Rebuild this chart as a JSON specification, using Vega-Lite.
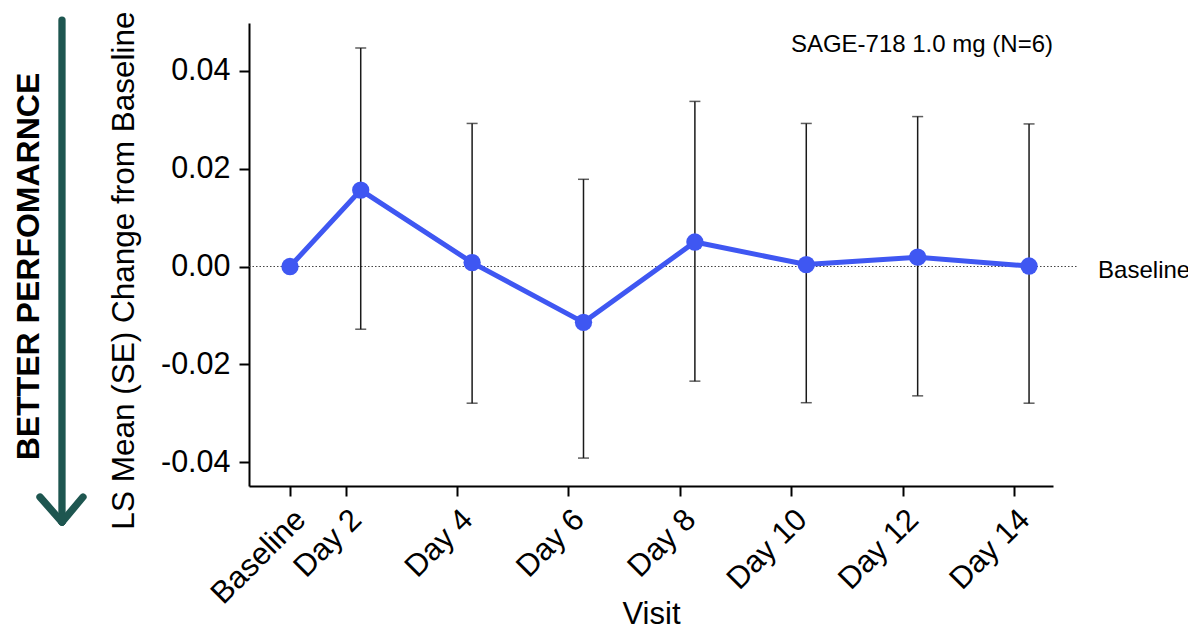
{
  "$schema": "https://vega.github.io/schema/vega-lite/v6.json",
  "width": 804,
  "height": 463,
  "autosize": {"type": "none"},
  "padding": {"left": 249, "top": 23, "right": 135, "bottom": 144},
  "background": "white",
  "config": {
    "view": {"stroke": null},
    "font": "Liberation Sans",
    "axis": {
      "grid": false,
      "labelFont": "Liberation Sans",
      "titleFont": "Liberation Sans",
      "labelColor": "black",
      "titleColor": "black",
      "titleFontWeight": "normal",
      "domainColor": "black",
      "domainWidth": 2,
      "tickColor": "black",
      "tickWidth": 2,
      "tickSize": 10
    }
  },
  "datasets": {
    "visits": [
      {"visit": "Baseline", "day": 1, "plot_day": 1.0, "mean": 0.0, "lower": null, "upper": null},
      {"visit": "Day 2", "day": 2, "plot_day": 2.27, "mean": 0.0156, "lower": -0.0128, "upper": 0.0446},
      {"visit": "Day 4", "day": 4, "plot_day": 4.27, "mean": 0.0008, "lower": -0.0279, "upper": 0.0292},
      {"visit": "Day 6", "day": 6, "plot_day": 6.27, "mean": -0.0114, "lower": -0.0391, "upper": 0.0178},
      {"visit": "Day 8", "day": 8, "plot_day": 8.27, "mean": 0.005, "lower": -0.0234, "upper": 0.0337},
      {"visit": "Day 10", "day": 10, "plot_day": 10.27, "mean": 0.0004, "lower": -0.0278, "upper": 0.0292},
      {"visit": "Day 12", "day": 12, "plot_day": 12.27, "mean": 0.0019, "lower": -0.0264, "upper": 0.0306},
      {"visit": "Day 14", "day": 14, "plot_day": 14.27, "mean": 0.0001, "lower": -0.0279, "upper": 0.0291}
    ],
    "refline": [{"x1": 0.264, "x2": 15.13, "y": 0}],
    "notes": [
      {"label": "SAGE-718 1.0 mg (N=6)", "x": 14.70, "y": 0.0438, "align": "right"},
      {"label": "Baseline", "x": 15.51, "y": -0.0024, "align": "left"}
    ],
    "arrow": [
      {"x1": -3.094, "y1": 0.0503, "x2": -3.094, "y2": -0.05216},
      {"x1": -3.489, "y1": -0.04705, "x2": -3.094, "y2": -0.05216},
      {"x1": -2.717, "y1": -0.04705, "x2": -3.094, "y2": -0.05216}
    ],
    "side": [{"label": "BETTER PERFOMARNCE", "x": -3.50, "y": 0.0}]
  },
  "layer": [
    {
      "data": {"name": "visits"},
      "mark": {"type": "line", "color": "#3F57F2", "strokeWidth": 5, "opacity": 0},
      "encoding": {
        "x": {
          "field": "plot_day", "type": "quantitative",
          "scale": {"domain": [0.264, 14.70], "nice": false, "zero": false},
          "title": "Visit",
          "axis": {
            "values": [1, 2, 4, 6, 8, 10, 12, 14],
            "labelExpr": "datum.value == 1 ? 'Baseline' : 'Day ' + datum.value",
            "labelAngle": -45,
            "labelAlign": "right",
            "labelBaseline": "top",
            "labelFontSize": 31,
            "labelPadding": 8,
            "labelOverlap": false,
            "labelBound": false,
            "labelFlush": false,
            "titleFontSize": 31,
            "titleY": 137,
            "titleBaseline": "alphabetic"
          }
        },
        "y": {
          "field": "mean", "type": "quantitative",
          "scale": {"domain": [-0.0448, 0.0497], "nice": false, "zero": false},
          "title": "LS Mean (SE) Change from Baseline",
          "axis": {
            "values": [-0.04, -0.02, 0, 0.02, 0.04],
            "labelExpr": "replace(format(datum.value, '.2f'), '−', '-')",
            "labelFontSize": 30.5,
            "labelPadding": 9,
            "titleFontSize": 31.5,
            "titleAngle": 270,
            "titleX": -116,
            "titleY": 247,
            "titleAlign": "center",
            "titleBaseline": "alphabetic"
          }
        }
      }
    },
    {
      "data": {"name": "refline"},
      "mark": {"type": "rule", "strokeDash": [1.5, 2], "color": "#444444", "strokeWidth": 1},
      "encoding": {
        "x": {"field": "x1", "type": "quantitative", "title": "Visit"},
        "x2": {"field": "x2"},
        "y": {"field": "y", "type": "quantitative", "title": "LS Mean (SE) Change from Baseline"}
      }
    },
    {
      "data": {"name": "visits"},
      "mark": {"type": "rule", "color": "#1a1a1a", "strokeWidth": 1.5},
      "encoding": {
        "x": {"field": "plot_day", "type": "quantitative", "title": "Visit"},
        "y": {"field": "lower", "type": "quantitative", "title": "LS Mean (SE) Change from Baseline"},
        "y2": {"field": "upper"}
      }
    },
    {
      "data": {"name": "visits"},
      "mark": {"type": "tick", "orient": "horizontal", "size": 11, "thickness": 1.5, "color": "#1a1a1a"},
      "encoding": {
        "x": {"field": "plot_day", "type": "quantitative", "title": "Visit"},
        "y": {"field": "lower", "type": "quantitative", "title": "LS Mean (SE) Change from Baseline"}
      }
    },
    {
      "data": {"name": "visits"},
      "mark": {"type": "tick", "orient": "horizontal", "size": 11, "thickness": 1.5, "color": "#1a1a1a"},
      "encoding": {
        "x": {"field": "plot_day", "type": "quantitative", "title": "Visit"},
        "y": {"field": "upper", "type": "quantitative", "title": "LS Mean (SE) Change from Baseline"}
      }
    },
    {
      "data": {"name": "visits"},
      "mark": {"type": "line", "color": "#3F57F2", "strokeWidth": 5},
      "encoding": {
        "x": {"field": "plot_day", "type": "quantitative", "title": "Visit"},
        "y": {"field": "mean", "type": "quantitative", "title": "LS Mean (SE) Change from Baseline"},
        "order": {"field": "plot_day"}
      }
    },
    {
      "data": {"name": "visits"},
      "mark": {"type": "circle", "color": "#3F57F2", "size": 300, "opacity": 1},
      "encoding": {
        "x": {"field": "plot_day", "type": "quantitative", "title": "Visit"},
        "y": {"field": "mean", "type": "quantitative", "title": "LS Mean (SE) Change from Baseline"}
      }
    },
    {
      "data": {"name": "notes"},
      "transform": [{"filter": "datum.align == 'right'"}],
      "mark": {"type": "text", "align": "right", "baseline": "alphabetic", "fontSize": 24, "color": "black"},
      "encoding": {
        "x": {"field": "x", "type": "quantitative", "title": "Visit"},
        "y": {"field": "y", "type": "quantitative", "title": "LS Mean (SE) Change from Baseline"},
        "text": {"field": "label"}
      }
    },
    {
      "data": {"name": "notes"},
      "transform": [{"filter": "datum.align == 'left'"}],
      "mark": {"type": "text", "align": "left", "baseline": "alphabetic", "fontSize": 24, "color": "black"},
      "encoding": {
        "x": {"field": "x", "type": "quantitative", "title": "Visit"},
        "y": {"field": "y", "type": "quantitative", "title": "LS Mean (SE) Change from Baseline"},
        "text": {"field": "label"}
      }
    },
    {
      "data": {"name": "arrow"},
      "mark": {"type": "rule", "color": "#1E5650", "strokeWidth": 7.3, "strokeCap": "round"},
      "encoding": {
        "x": {"field": "x1", "type": "quantitative", "title": "Visit"},
        "x2": {"field": "x2"},
        "y": {"field": "y1", "type": "quantitative", "title": "LS Mean (SE) Change from Baseline"},
        "y2": {"field": "y2"}
      }
    },
    {
      "data": {"name": "side"},
      "mark": {"type": "text", "angle": 270, "align": "center", "baseline": "alphabetic", "fontSize": 32, "fontWeight": "bold", "color": "black"},
      "encoding": {
        "x": {"field": "x", "type": "quantitative", "title": "Visit"},
        "y": {"field": "y", "type": "quantitative", "title": "LS Mean (SE) Change from Baseline"},
        "text": {"field": "label"}
      }
    }
  ]
}
